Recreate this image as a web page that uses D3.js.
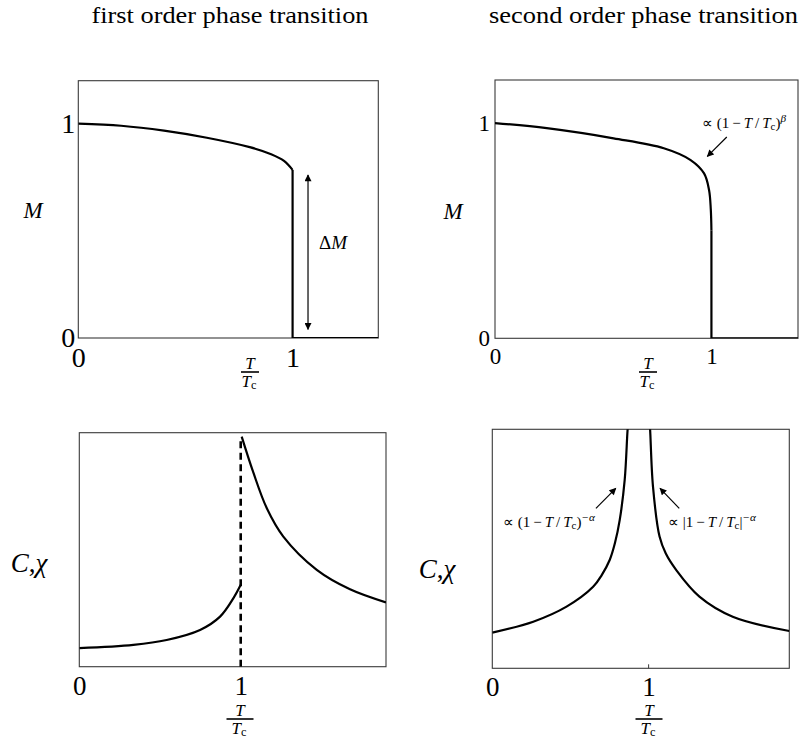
<!DOCTYPE html>
<html>
<head>
<meta charset="utf-8">
<script src="https://cdn.jsdelivr.net/npm/d3@7"></script>
<style>
  body { margin: 0; background: #fff; }
  text { fill: #000; }
</style>
</head>
<body>
<div id="chart"></div>
<script>
// values
const tickValues = [0, 1];
const tickLabels = ["0", "1"];

// first order: magnetisation
const firstT = [0, 0.2, 0.4, 0.6, 0.8, 0.9, 0.96, 1.0];
const firstM = [1.0, 0.99, 0.967, 0.934, 0.89, 0.857, 0.826, 0.784];
const firstJumpT = [1.0, 1.0, 1.4];
const firstJumpM = [0.784, 0, 0];

// second order: magnetisation
const secondT = [0, 0.239, 0.548, 0.78, 0.904, 0.966, 0.989, 0.997, 1.0];
const secondM = [1.0, 0.976, 0.929, 0.883, 0.828, 0.766, 0.689, 0.6, 0.5];
const secondTailT = [1.0, 1.0, 1.4];
const secondTailM = [0.5, 0, 0];

// first order: C, chi
const firstCLowT = [0, 0.335, 0.541, 0.748, 0.872, 0.954, 1.0];
const firstCLowV = [0.079, 0.093, 0.114, 0.157, 0.214, 0.292, 0.35];
const firstCHighT = [1.006, 1.078, 1.161, 1.264, 1.471, 1.677, 1.9];
const firstCHighV = [0.983, 0.83, 0.678, 0.556, 0.414, 0.331, 0.275];
const firstCDashT = [1.0, 1.0];
const firstCDashV = [0, 0.983];

// second order: C, chi
const secondCLowT = [0, 0.262, 0.475, 0.645, 0.7, 0.751, 0.785, 0.815, 0.847, 0.864, 0.868];
const secondCLowV = [0.149, 0.195, 0.258, 0.341, 0.39, 0.453, 0.525, 0.62, 0.788, 0.983, 1.02];
const secondCHighT = [1.008, 1.011, 1.028, 1.07, 1.11, 1.177, 1.325, 1.538, 1.9];
const secondCHighV = [1.02, 0.98, 0.76, 0.551, 0.48, 0.411, 0.3, 0.216, 0.156];

const serif = "'Liberation Serif', 'Times New Roman', serif";
const smooth = d3.curveCatmullRom.alpha(0.5);

const svg = d3.select("#chart").append("svg")
    .attr("width", 799)
    .attr("height", 745);

const defs = svg.append("defs");
defs.append("marker")
    .attr("id", "head")
    .attr("viewBox", "0 0 10 10")
    .attr("refX", 9).attr("refY", 5)
    .attr("markerWidth", 8).attr("markerHeight", 7)
    .attr("markerUnits", "userSpaceOnUse")
    .attr("orient", "auto-start-reverse")
    .append("path")
    .attr("d", "M0,0 L10,5 L0,10 z")
    .attr("fill", "#000");

// titles
svg.append("text")
    .attr("x", 230).attr("y", 23)
    .attr("text-anchor", "middle")
    .attr("font-family", serif).attr("font-size", 24)
    .attr("textLength", 277).attr("lengthAdjust", "spacingAndGlyphs")
    .text("first order phase transition");
svg.append("text")
    .attr("x", 643.5).attr("y", 23)
    .attr("text-anchor", "middle")
    .attr("font-family", serif).attr("font-size", 24)
    .attr("textLength", 309).attr("lengthAdjust", "spacingAndGlyphs")
    .text("second order phase transition");

// one framed panel with its own scales
function makePanel(id, left, top, right, bottom, xMax, yMax) {
    const w = right - left, h = bottom - top;
    const x = d3.scaleLinear().domain([0, xMax]).range([0, w]);
    const y = d3.scaleLinear().domain([0, yMax]).range([h, 0]);
    const g = svg.append("g").attr("transform", `translate(${left},${top})`);

    defs.append("clipPath").attr("id", "clip-" + id)
        .append("rect").attr("x", 0).attr("y", 0).attr("width", w).attr("height", h);

    g.append("rect")
        .attr("width", w).attr("height", h)
        .attr("fill", "none")
        .attr("stroke", "#3a3a3a")
        .attr("stroke-width", 1.1);

    const plot = g.append("g").attr("clip-path", `url(#clip-${id})`);
    return { g, plot, x, y, w, h };
}

function drawLine(p, ts, vs, curve, dash) {
    const line = d3.line()
        .x(d => p.x(d[0]))
        .y(d => p.y(d[1]))
        .curve(curve);
    p.plot.append("path")
        .datum(d3.zip(ts, vs))
        .attr("d", line)
        .attr("fill", "none")
        .attr("stroke", "#000")
        .attr("stroke-width", dash ? 2.6 : 2.2)
        .attr("stroke-linejoin", "round")
        .attr("stroke-dasharray", dash ? "7,4.5" : null);
}

function xAxis(p, fontSize, pad) {
    p.g.append("g")
        .attr("transform", `translate(0,${p.h})`)
        .call(d3.axisBottom(p.x).tickValues(tickValues)
            .tickFormat((d, i) => tickLabels[i]).tickSize(0).tickPadding(pad))
        .call(a => a.select(".domain").remove())
        .attr("font-family", serif)
        .attr("font-size", fontSize);
}

function yAxis(p, fontSize, pad) {
    p.g.append("g")
        .call(d3.axisLeft(p.y).tickValues(tickValues)
            .tickFormat((d, i) => tickLabels[i]).tickSize(0).tickPadding(pad))
        .call(a => a.select(".domain").remove())
        .attr("font-family", serif)
        .attr("font-size", fontSize);
}

function innerTick(p) {
    p.g.append("line")
        .attr("x1", p.x(1)).attr("x2", p.x(1))
        .attr("y1", p.h).attr("y2", p.h - 4)
        .attr("stroke", "#3a3a3a").attr("stroke-width", 1);
}

// T / T_c fraction label
function frac(cx, lineY, lineW, fs) {
    const g = svg.append("g").attr("font-family", serif).attr("font-size", fs);
    g.append("text")
        .attr("x", cx).attr("y", lineY - 3)
        .attr("text-anchor", "middle")
        .attr("font-style", "italic")
        .text("T");
    g.append("line")
        .attr("x1", cx - lineW / 2).attr("x2", cx + lineW / 2)
        .attr("y1", lineY).attr("y2", lineY)
        .attr("stroke", "#000").attr("stroke-width", 1.6);
    const d = g.append("text")
        .attr("x", cx - 1).attr("y", lineY + fs * 0.86)
        .attr("text-anchor", "middle");
    d.append("tspan").attr("font-style", "italic").text("T");
    d.append("tspan").attr("font-size", fs * 0.72).attr("dy", 2).text("c");
}

function axisName(x, y, fs, parts) {
    const t = svg.append("text")
        .attr("x", x).attr("y", y)
        .attr("text-anchor", "middle")
        .attr("font-family", serif).attr("font-size", fs);
    parts.forEach(([s, it]) => t.append("tspan").attr("font-style", it ? "italic" : "normal").text(s));
}

// proportionality annotation:  ∝ (1 − T/Tc)^exp   or with |...|
function propLabel(x, y, fs, open, close, exp) {
    const t = svg.append("text")
        .attr("x", x).attr("y", y)
        .attr("font-family", serif).attr("font-size", fs);
    t.append("tspan").text("\u221D " + open + "1\u2009\u2212\u2009");
    t.append("tspan").attr("font-style", "italic").text("T");
    t.append("tspan").text("\u2009/\u2009");
    t.append("tspan").attr("font-style", "italic").text("T");
    t.append("tspan").attr("font-size", fs * 0.72).attr("dy", 2).text("c");
    t.append("tspan").attr("dy", -2).text(close);
    t.append("tspan").attr("font-size", fs * 0.75).attr("dy", -6)
        .attr("font-style", "italic").text(exp);
}

function arrow(p, t0, v0, t1, v1, both) {
    p.g.append("line")
        .attr("x1", p.x(t0)).attr("y1", p.y(v0))
        .attr("x2", p.x(t1)).attr("y2", p.y(v1))
        .attr("stroke", "#000").attr("stroke-width", 1.2)
        .attr("marker-end", "url(#head)")
        .attr("marker-start", both ? "url(#head)" : null);
}

// ---------- top left: first order M ----------
const tl = makePanel("tl", 78.3, 80.7, 378.3, 338, 1.4, 1.2);
drawLine(tl, firstT, firstM, smooth);
drawLine(tl, firstJumpT, firstJumpM, d3.curveLinear);
xAxis(tl, 28, 9);
yAxis(tl, 28, 3);
arrow(tl, 1.072, 0.04, 1.072, 0.76, true);
axisName(333, 249, 19, [["\u0394", false], ["M", true]]);
axisName(33, 218, 23, [["M", true]]);
frac(250, 372, 18, 17);

// ---------- top right: second order M ----------
const tr = makePanel("tr", 495, 80, 798, 338.3, 1.4, 1.2);
drawLine(tr, secondT, secondM, smooth);
drawLine(tr, secondTailT, secondTailM, d3.curveLinear);
xAxis(tr, 23, 9);
yAxis(tr, 23, 5);
arrow(tr, 1.071, 0.935, 0.981, 0.845, false);
propLabel(702, 128, 15, "(", ")", "\u03B2");
axisName(453, 219, 23, [["M", true]]);
frac(648, 372, 18, 17);

// ---------- bottom left: first order C, chi ----------
const bl = makePanel("bl", 79.3, 432.7, 386, 666.7, 1.9, 1.0);
drawLine(bl, firstCLowT, firstCLowV, smooth);
drawLine(bl, firstCHighT, firstCHighV, smooth);
drawLine(bl, firstCDashT, firstCDashV, d3.curveLinear, true);
xAxis(bl, 27, 9.5);
axisName(29, 572, 27, [["C", true], [",", false], ["\u03C7", true]]);
frac(240, 719, 27, 17);

// ---------- bottom right: second order C, chi ----------
const br = makePanel("br", 492.3, 429.3, 789.3, 668.3, 1.9, 1.0);
drawLine(br, secondCLowT, secondCLowV, smooth);
drawLine(br, secondCHighT, secondCHighV, smooth);
innerTick(br);
xAxis(br, 27, 9);
arrow(br, 0.663, 0.669, 0.79, 0.753, false);
arrow(br, 1.196, 0.669, 1.073, 0.753, false);
propLabel(503, 527, 15, "(", ")", "\u2212\u03B1");
propLabel(668, 527, 15, "|", "|", "\u2212\u03B1");
axisName(437, 578, 27, [["C", true], [",", false], ["\u03C7", true]]);
frac(649, 719, 27, 17);
</script>
</body>
</html>
